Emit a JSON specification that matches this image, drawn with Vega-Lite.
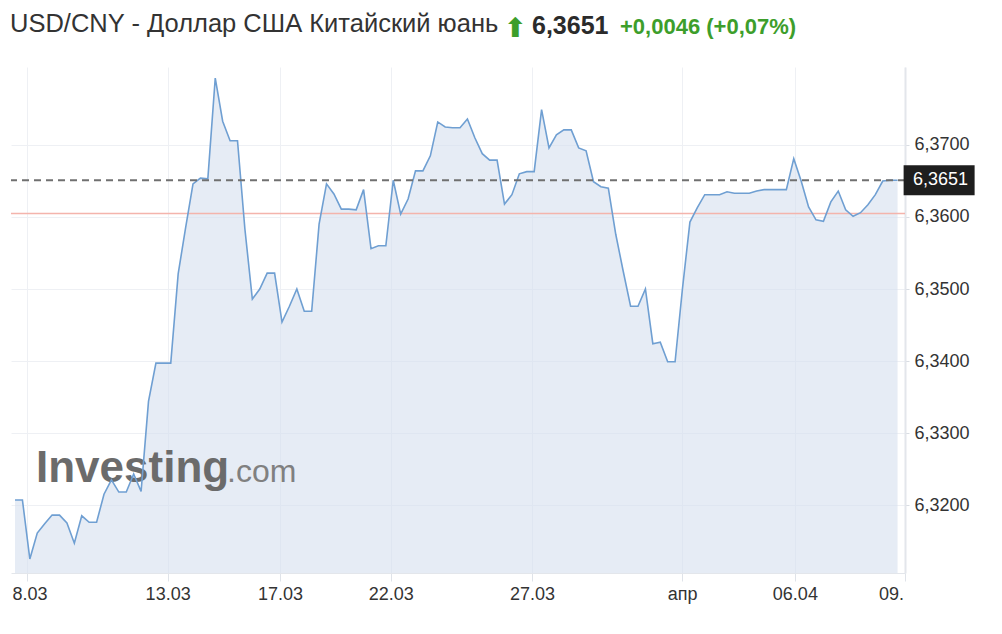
{
  "$schema": "https://vega.github.io/schema/vega-lite/v6.json",
  "background": "white",
  "padding": {"left": 10, "top": 12, "right": 10, "bottom": 10},
  "datasets": {
    "series": [
      {"i":0,"price":6.3207},{"i":1,"price":6.3207},{"i":2,"price":6.3125},{"i":3,"price":6.3161},{"i":4,"price":6.3174},
      {"i":5,"price":6.3186},{"i":6,"price":6.3186},{"i":7,"price":6.3175},{"i":8,"price":6.3147},{"i":9,"price":6.3185},
      {"i":10,"price":6.3176},{"i":11,"price":6.3176},{"i":12,"price":6.3215},{"i":13,"price":6.3235},{"i":14,"price":6.3218},
      {"i":15,"price":6.3218},{"i":16,"price":6.3243},{"i":17,"price":6.3219},{"i":18,"price":6.3344},{"i":19,"price":6.3397},
      {"i":20,"price":6.3397},{"i":21,"price":6.3397},{"i":22,"price":6.3521},{"i":23,"price":6.3585},{"i":24,"price":6.3646},
      {"i":25,"price":6.3654},{"i":26,"price":6.3653},{"i":27,"price":6.3793},{"i":28,"price":6.3733},{"i":29,"price":6.3706},
      {"i":30,"price":6.3706},{"i":31,"price":6.3583},{"i":32,"price":6.3486},{"i":33,"price":6.35},{"i":34,"price":6.3522},
      {"i":35,"price":6.3522},{"i":36,"price":6.3454},{"i":37,"price":6.3476},{"i":38,"price":6.35},{"i":39,"price":6.3469},
      {"i":40,"price":6.3469},{"i":41,"price":6.359},{"i":42,"price":6.3646},{"i":43,"price":6.3632},{"i":44,"price":6.3611},
      {"i":45,"price":6.3611},{"i":46,"price":6.361},{"i":47,"price":6.3638},{"i":48,"price":6.3556},{"i":49,"price":6.356},
      {"i":50,"price":6.356},{"i":51,"price":6.3651},{"i":52,"price":6.3604},{"i":53,"price":6.3625},{"i":54,"price":6.3664},
      {"i":55,"price":6.3664},{"i":56,"price":6.3685},{"i":57,"price":6.3732},{"i":58,"price":6.3725},{"i":59,"price":6.3724},
      {"i":60,"price":6.3724},{"i":61,"price":6.3736},{"i":62,"price":6.371},{"i":63,"price":6.3688},{"i":64,"price":6.3679},
      {"i":65,"price":6.3679},{"i":66,"price":6.3618},{"i":67,"price":6.3631},{"i":68,"price":6.366},{"i":69,"price":6.3663},
      {"i":70,"price":6.3663},{"i":71,"price":6.3749},{"i":72,"price":6.3696},{"i":73,"price":6.3714},{"i":74,"price":6.3721},
      {"i":75,"price":6.3721},{"i":76,"price":6.3696},{"i":77,"price":6.3692},{"i":78,"price":6.3649},{"i":79,"price":6.3642},
      {"i":80,"price":6.364},{"i":81,"price":6.3576},{"i":82,"price":6.3525},{"i":83,"price":6.3476},{"i":84,"price":6.3476},
      {"i":85,"price":6.35},{"i":86,"price":6.3424},{"i":87,"price":6.3426},{"i":88,"price":6.3399},{"i":89,"price":6.3399},
      {"i":90,"price":6.3501},{"i":91,"price":6.3593},{"i":92,"price":6.3613},{"i":93,"price":6.3631},{"i":94,"price":6.3631},
      {"i":95,"price":6.3631},{"i":96,"price":6.3635},{"i":97,"price":6.3633},{"i":98,"price":6.3633},{"i":99,"price":6.3633},
      {"i":100,"price":6.3636},{"i":101,"price":6.3638},{"i":102,"price":6.3638},{"i":103,"price":6.3638},{"i":104,"price":6.3638},
      {"i":105,"price":6.3681},{"i":106,"price":6.365},{"i":107,"price":6.3614},{"i":108,"price":6.3596},{"i":109,"price":6.3594},
      {"i":110,"price":6.3621},{"i":111,"price":6.3636},{"i":112,"price":6.361},{"i":113,"price":6.3601},{"i":114,"price":6.3606},
      {"i":115,"price":6.3617},{"i":116,"price":6.3631},{"i":117,"price":6.365},{"i":118,"price":6.3651},{"i":119,"price":6.3651}
    ],
    "levels": [
      {"name": "prev_close", "value": 6.3605, "label": "6,3605"},
      {"name": "last", "value": 6.3651, "label": "6,3651"}
    ],
    "brand": [
      {"part": "Investing"},
      {"part": ".com"}
    ]
  },
  "title": {"text": "USD/CNY - Доллар США Китайский юань", "anchor": "start", "font": "Liberation Sans", "fontSize": 25.5, "fontWeight": "normal", "color": "#333333", "offset": -23.5},
  "vconcat": [
    {
      "title": {"text": "⬆", "anchor": "start", "dx": 494, "dy": 2, "font": "DejaVu Sans", "fontSize": 27, "fontWeight": "bold", "color": "#3d9e2b", "offset": -27},
      "vconcat": [
        {
          "title": {"text": "6,3651", "anchor": "start", "dx": 522, "font": "Liberation Sans", "fontSize": 25, "fontWeight": "bold", "color": "#2b2b2b", "offset": -23},
          "vconcat": [
            {
              "title": {"text": "+0,0046 (+0,07%)", "anchor": "start", "dx": 610, "dy": 2, "font": "Liberation Sans", "fontSize": 22, "fontWeight": "bold", "color": "#3d9e2b", "offset": 30},
              "width": 894,
              "height": 506,
              "layer": [
                {
                  "data": {"name": "series"},
                  "mark": {"type": "area", "color": "#d6e0ee", "opacity": 0.6},
                  "encoding": {
                    "x": {"field": "i", "type": "quantitative", "scale": {"domain": [-0.54, 120], "nice": false, "zero": false},
                      "axis": {"values": [1.564, 20.58, 35.72, 50.67, 69.71, 89.94, 105.15, 120],
                        "labelExpr": "datum.value < 5 ? '8.03' : datum.value < 25 ? '13.03' : datum.value < 40 ? '17.03' : datum.value < 60 ? '22.03' : datum.value < 80 ? '27.03' : datum.value < 95 ? 'апр' : datum.value < 110 ? '06.04' : '09.'",
                        "labelOffset": {"condition": [{"test": "datum.value < 5", "value": 3}, {"test": "datum.value > 119", "value": -14}], "value": 0},
                        "title": null, "grid": true, "gridColor": "#eef0f4", "tickColor": "#dfe3e9", "tickSize": 8,
                        "domainColor": "#e3e6eb", "labelFont": "Liberation Sans", "labelFontSize": 18, "labelColor": "#333333",
                        "labelPadding": 4, "labelFlush": false, "labelOverlap": false}},
                    "y": {"field": "price", "type": "quantitative", "scale": {"domain": [6.310556, 6.380833], "nice": false, "zero": false},
                      "axis": {"orient": "right", "values": [6.32, 6.33, 6.34, 6.35, 6.36, 6.37],
                        "labelExpr": "replace(format(datum.value, '.4f'), '.', ',')",
                        "title": null, "grid": true, "gridColor": "#eef0f4", "tickColor": "#d9dde3", "tickSize": 4,
                        "domainColor": "#e3e6eb", "domainWidth": 2, "labelFont": "Liberation Sans", "labelFontSize": 18,
                        "labelColor": "#333333", "labelPadding": 5, "labelFlush": false}},
                    "y2": {"datum": 6.310556}
                  }
                },
                {
                  "data": {"name": "levels"},
                  "transform": [{"filter": "datum.name == 'prev_close'"}],
                  "mark": {"type": "rule", "color": "#f4b4ac", "strokeWidth": 1.5},
                  "encoding": {"y": {"field": "value", "type": "quantitative"}}
                },
                {
                  "data": {"name": "brand"},
                  "transform": [{"filter": "datum.part == 'Investing'"}],
                  "mark": {"type": "text", "align": "left", "baseline": "alphabetic", "font": "Liberation Sans", "fontSize": 44, "fontWeight": "bold", "color": "#6b6b6b"},
                  "encoding": {
                    "x": {"datum": 2.83, "type": "quantitative"},
                    "y": {"datum": 6.3232, "type": "quantitative"},
                    "text": {"field": "part"}
                  }
                },
                {
                  "data": {"name": "brand"},
                  "transform": [{"filter": "datum.part == '.com'"}],
                  "mark": {"type": "text", "align": "left", "baseline": "alphabetic", "font": "Liberation Sans", "fontSize": 32, "fontWeight": "normal", "color": "#808080"},
                  "encoding": {
                    "x": {"datum": 28.6, "type": "quantitative"},
                    "y": {"datum": 6.3232, "type": "quantitative"},
                    "text": {"field": "part"}
                  }
                },
                {
                  "data": {"name": "series"},
                  "mark": {"type": "line", "color": "#6f9fd2", "strokeWidth": 1.6},
                  "encoding": {
                    "x": {"field": "i", "type": "quantitative"},
                    "y": {"field": "price", "type": "quantitative"}
                  }
                },
                {
                  "data": {"name": "levels"},
                  "transform": [{"filter": "datum.name == 'last'"}],
                  "mark": {"type": "rule", "color": "#707070", "strokeWidth": 2, "strokeDash": [7, 5]},
                  "encoding": {"y": {"field": "value", "type": "quantitative"}}
                },
                {
                  "data": {"name": "levels"},
                  "transform": [{"filter": "datum.name == 'last'"}],
                  "mark": {"type": "tick", "orient": "vertical", "thickness": 71, "size": 30, "color": "#1e1e1e", "opacity": 1},
                  "encoding": {
                    "x": {"datum": 124.6, "type": "quantitative"},
                    "y": {"field": "value", "type": "quantitative"}
                  }
                },
                {
                  "data": {"name": "levels"},
                  "transform": [{"filter": "datum.name == 'last'"}],
                  "mark": {"type": "text", "align": "left", "baseline": "middle", "font": "Liberation Sans", "fontSize": 18, "color": "white"},
                  "encoding": {
                    "x": {"datum": 121.08, "type": "quantitative"},
                    "y": {"field": "value", "type": "quantitative"},
                    "text": {"field": "label"}
                  }
                }
              ]
            }
          ]
        }
      ]
    }
  ],
  "config": {"view": {"stroke": null}, "concat": {"spacing": 0}}
}
